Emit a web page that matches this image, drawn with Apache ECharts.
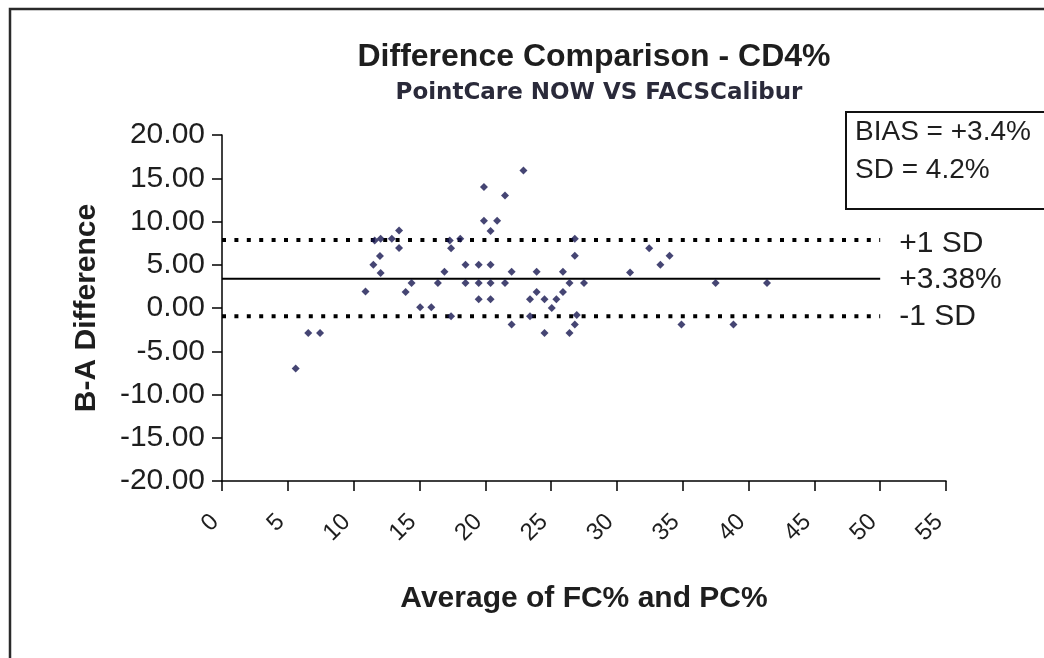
<!DOCTYPE html>
<html>
<head>
<meta charset="utf-8">
<script src="https://cdn.jsdelivr.net/npm/echarts@6/dist/echarts.min.js"></script>
<style>
html,body{margin:0;padding:0;background:#fff;}
#chart{width:1044px;height:658px;}
</style>
</head>
<body>
<div id="chart"></div>
<script>
// ---- data ----
var titleText = 'Difference Comparison - CD4%';
var subtitleText = 'PointCare NOW VS FACSCalibur';
var xAxisName = 'Average of FC% and PC%';
var yAxisName = 'B-A Difference';
var xAvg = [5.6, 6.55, 7.45, 10.9, 11.5, 12.0, 12.05, 11.6, 12.05, 12.9, 13.45, 13.45, 13.95, 14.4, 15.05, 15.9,
  16.4, 16.9, 17.3, 17.4, 18.1, 17.4, 18.5, 18.5, 19.5, 19.5, 19.5, 19.9, 19.9, 20.4, 20.4, 20.4, 20.4, 20.9,
  21.5, 21.5, 22.0, 22.0, 22.9, 23.4, 23.4, 23.9, 23.9, 24.5, 24.5, 25.05, 25.4, 25.9, 25.9, 26.4, 26.4, 26.8,
  26.8, 26.95, 26.8, 27.5, 31.0, 32.45, 33.3, 34.0, 34.9, 37.5, 38.85, 41.4];
var yDiff = [-7.0, -2.9, -2.9, 1.9, 5.0, 6.0, 4.05, 7.8, 8.0, 8.0, 8.95, 6.95, 1.85, 2.9, 0.1, 0.1,
  2.9, 4.2, 7.8, 6.9, 8.0, -0.96, 5.0, 2.9, 5.0, 2.9, 1.0, 14.0, 10.1, 8.9, 5.0, 2.9, 1.0, 10.1,
  13.0, 2.9, 4.2, -1.9, 15.9, 1.0, -0.96, 4.2, 1.85, 1.0, -2.9, 0.0, 1.0, 4.2, 1.85, 2.9, -2.9, 8.0,
  6.05, -0.8, -1.9, 2.9, 4.1, 6.9, 5.0, 6.05, -1.9, 2.9, -1.9, 2.9];
var refLineX = [0, 50];
var biasValue = 3.38;
var plusSD = 7.85;
var minusSD = -0.95;
var refLabels = ['+1 SD', '+3.38%', '-1 SD'];
var boxLines = ['BIAS = +3.4%', 'SD = 4.2%'];
var yTicks = {min: -20, max: 20, interval: 5};
var xTicks = {min: 0, max: 55, interval: 5};

var FONT = '"Liberation Sans", Arial, sans-serif';
var TXT = '#1e1e1e';

var points = xAvg.map(function (x, i) { return [x, yDiff[i]]; });
function hline(v) { return refLineX.map(function (x) { return [x, v]; }); }

function refSeries(v, label, dotted, dy) {
  return {
    type: 'line',
    data: hline(v),
    symbol: 'none',
    silent: true,
    lineStyle: dotted ? {color: '#000', width: 4, type: [4, 8.4]} : {color: '#000', width: 1.8},
    endLabel: {
      show: true, formatter: label, distance: 19, offset: [0, dy],
      fontFamily: FONT, fontSize: 30, color: TXT
    },
    z: 1
  };
}

var chart = echarts.init(document.getElementById('chart'), null, {renderer: 'canvas'});
chart.setOption({
  animation: false,
  backgroundColor: '#ffffff',
  title: [{
    text: titleText,
    left: 589, top: 36, textAlign: 'center',
    textStyle: {fontFamily: FONT, fontSize: 32, fontWeight: 'bold', color: TXT}
  }, {
    text: subtitleText,
    left: 594, top: 77, textAlign: 'center',
    textStyle: {fontFamily: '"DejaVu Sans", sans-serif', fontSize: 23, fontWeight: 'bold', color: '#2a2a3a'}
  }],
  grid: {left: 222, right: 98, top: 135, bottom: 177, containLabel: false},
  xAxis: {
    type: 'value', min: xTicks.min, max: xTicks.max, interval: xTicks.interval,
    name: xAxisName, nameLocation: 'middle', nameGap: 103,
    nameTextStyle: {fontFamily: FONT, fontSize: 30, fontWeight: 'bold', color: TXT},
    axisLine: {show: true, onZero: false, lineStyle: {color: '#000', width: 1.5}},
    axisTick: {show: true, inside: false, length: 10, lineStyle: {color: '#000', width: 1.5}},
    axisLabel: {rotate: 45, margin: 30, padding: [0, 10, 0, 0], fontFamily: FONT, fontSize: 24, color: TXT},
    splitLine: {show: false}
  },
  yAxis: {
    type: 'value', min: yTicks.min, max: yTicks.max, interval: yTicks.interval,
    name: yAxisName, nameLocation: 'middle', nameGap: 120,
    nameTextStyle: {fontFamily: FONT, fontSize: 30, fontWeight: 'bold', color: TXT},
    axisLine: {show: true, onZero: false, lineStyle: {color: '#000', width: 1.5}},
    axisTick: {show: true, inside: false, length: 10, lineStyle: {color: '#000', width: 1.5}},
    axisLabel: {margin: 17, fontFamily: FONT, fontSize: 30, color: TXT,
      formatter: function (v) { return v.toFixed(2); }},
    splitLine: {show: false}
  },
  graphic: [
    {type: 'rect', shape: {x: 10, y: 9, width: 1100, height: 700},
      style: {fill: 'none', stroke: '#2a2a2a', lineWidth: 2.5}, silent: true},
    {type: 'rect', shape: {x: 846, y: 112, width: 300, height: 97},
      style: {fill: '#fff', stroke: '#111', lineWidth: 2}, silent: true, z: 10},
    {type: 'text', left: 855, top: 118, z: 11,
      style: {text: boxLines[0], fontFamily: FONT, fontSize: 28, fill: TXT}},
    {type: 'text', left: 855, top: 156, z: 11,
      style: {text: boxLines[1], fontFamily: FONT, fontSize: 28, fill: TXT}}
  ],
  series: [
    refSeries(plusSD, refLabels[0], true, 4),
    refSeries(biasValue, refLabels[1], false, 1),
    refSeries(minusSD, refLabels[2], true, 1),
    {
      type: 'scatter',
      data: points,
      symbol: 'diamond',
      symbolSize: 8,
      itemStyle: {color: '#161650'},
      z: 5
    }
  ]
});
</script>
</body>
</html>
